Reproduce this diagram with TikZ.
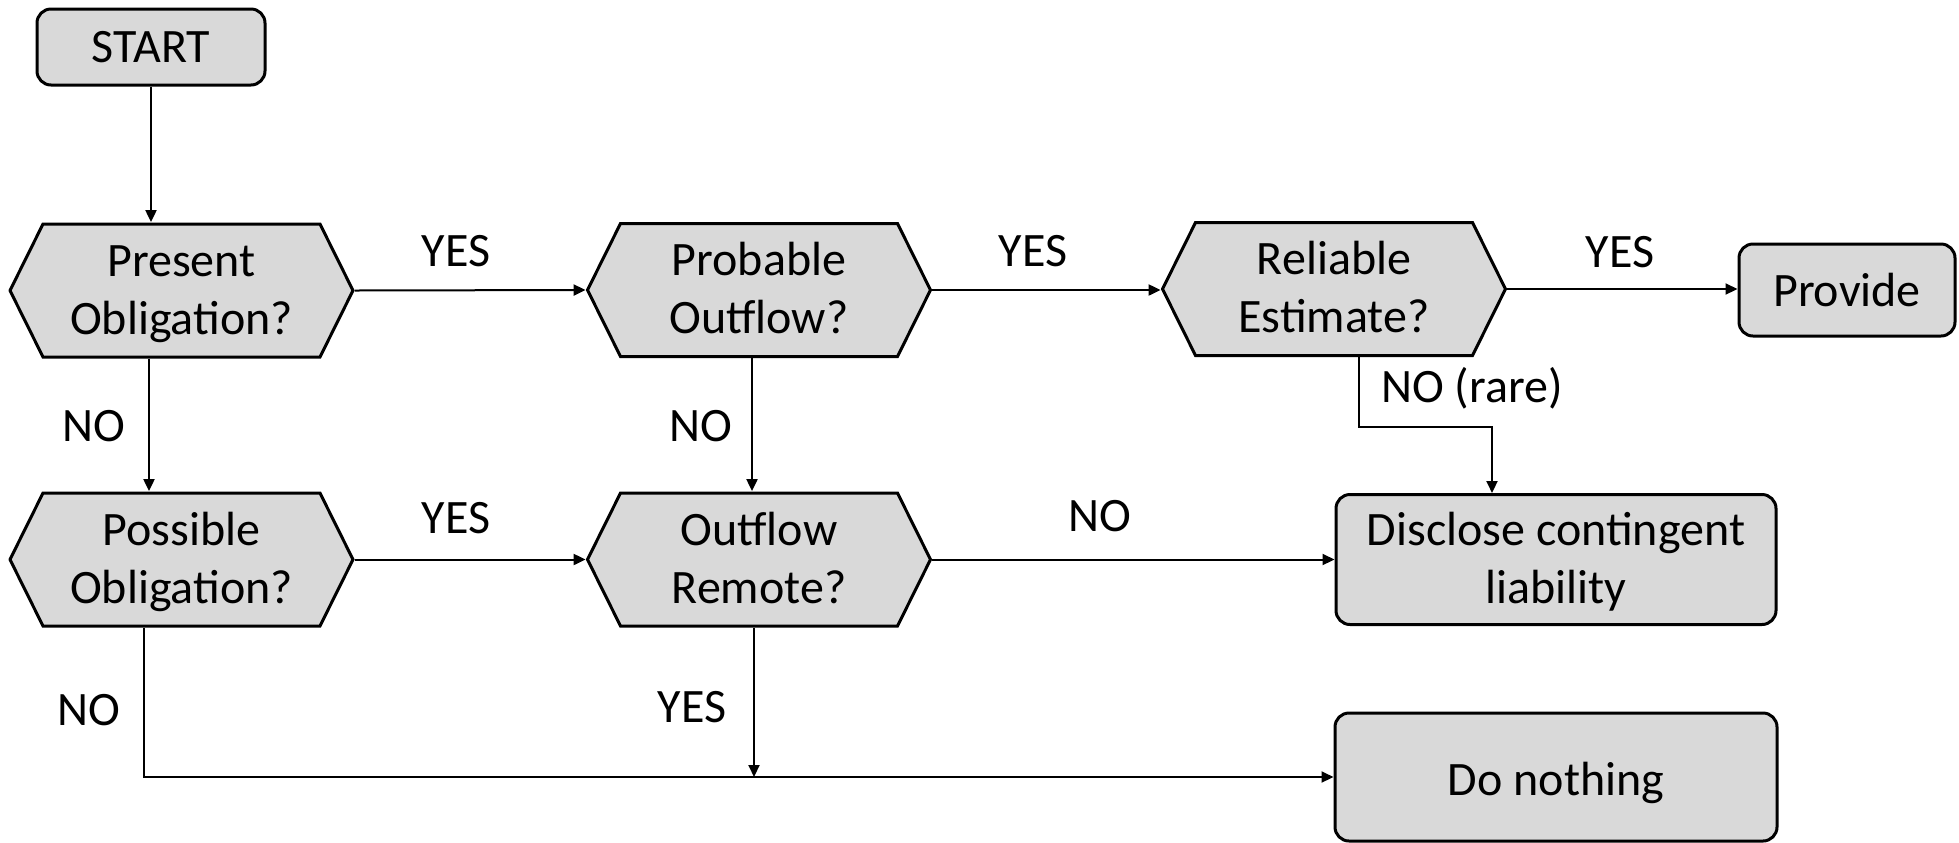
\documentclass[tikz,border=0pt]{standalone}
\usepackage{fontspec}
\setmainfont{Carlito}
\usetikzlibrary{arrows.meta}
\definecolor{boxgray}{HTML}{D9D9D9}
\newcommand{\lowertext}[2]{\raisebox{-#1}[\height][\depth]{#2}}
\begin{document}
\begin{tikzpicture}[x=0.5pt,y=-0.5pt,
  every node/.style={font=\fontsize{24pt}{29pt}\selectfont},
  rbox/.style={draw, line width=1.5pt, fill=boxgray, rounded corners=7pt, align=center, inner sep=0pt},
  hexbox/.style={align=center, inner sep=0pt, minimum width=173pt, minimum height=68pt,
    path picture={
      \draw[line width=1.5pt, fill=boxgray, line join=miter]
        ([xshift=0.75pt]path picture bounding box.west)
        -- ([xshift=17.25pt,yshift=-0.75pt]path picture bounding box.north west)
        -- ([xshift=-17.25pt,yshift=-0.75pt]path picture bounding box.north east)
        -- ([xshift=-0.75pt]path picture bounding box.east)
        -- ([xshift=-17.25pt,yshift=0.75pt]path picture bounding box.south east)
        -- ([xshift=17.25pt,yshift=0.75pt]path picture bounding box.south west)
        -- cycle;}},
  conn/.style={line width=1pt, -{Triangle[length=6pt,width=5.5pt]}},
  lbl/.style={inner sep=0pt}]
\useasboundingbox (0,0) rectangle (1959,842);

\node[rbox, minimum width=114pt, minimum height=38pt] (start) at (151,47) {START};
\node[hexbox] (present) at (181.5,290.5) {\lowertext{1.5pt}{\begin{tabular}{@{}c@{}}Present\\Obligation?\end{tabular}}};
\node[hexbox] (probable) at (759,290) {\lowertext{1.5pt}{\begin{tabular}{@{}c@{}}Probable\\Outflow?\end{tabular}}};
\node[hexbox] (reliable) at (1334,289) {\lowertext{1.5pt}{\begin{tabular}{@{}c@{}}Reliable\\Estimate?\end{tabular}}};
\node[rbox, minimum width=108pt, minimum height=46pt] (provide) at (1847,290) {Provide};
\node[hexbox] (possible) at (181.5,559.5) {\lowertext{1.5pt}{\begin{tabular}{@{}c@{}}Possible\\Obligation?\end{tabular}}};
\node[hexbox] (remote) at (759,559.5) {\lowertext{1.5pt}{\begin{tabular}{@{}c@{}}Outflow\\Remote?\end{tabular}}};
\node[rbox, minimum width=220pt, minimum height=65pt] (disclose) at (1556,559.5) {\lowertext{1.5pt}{\begin{tabular}{@{}c@{}}Disclose contingent\\liability\end{tabular}}};
\node[rbox, minimum width=221pt, minimum height=64pt] (nothing) at (1556,777) {\lowertext{3pt}{Do nothing}};

\coordinate (bend) at (1492,427);
\coordinate (join) at (754,777);

\draw[conn] (start.south) -- (start.south |- present.north);
\draw[conn] (present.east) -- (probable.west);
\draw[conn] (probable.east) -- (probable.east -| reliable.west);
\draw[conn] (reliable.east) -- (reliable.east -| provide.west);
\draw[conn] ([xshift=-16.25pt]present.south) -- ([xshift=-16.25pt]possible.north);
\draw[conn] ([xshift=-3.5pt]probable.south) -- ([xshift=-3.5pt]remote.north);
\draw[conn] (possible.east) -- (remote.west);
\draw[conn] (remote.east) -- (remote.east -| disclose.west);
\draw[conn] ([xshift=12.5pt]reliable.south) |- (bend) -- (bend |- disclose.north);
\draw[conn] ([xshift=-2.5pt]remote.south) -- (join);
\draw[conn] ([xshift=-18.75pt]possible.south) |- (nothing.west);

\node[lbl] (l1) at (456,251) {YES};
\node[lbl] (l2) at (1033,251) {YES};
\node[lbl] (l3) at (1620,252) {YES};
\node[lbl] (l4) at (94,426) {NO};
\node[lbl] (l5) at (701,426) {NO};
\node[lbl] (l6) at (1472,388) {NO (rare)};
\node[lbl] (l7) at (456,518) {YES};
\node[lbl] (l8) at (1100,516) {NO};
\node[lbl] (l9) at (89,710) {NO};
\node[lbl] (l10) at (692,707) {YES};
\end{tikzpicture}
\end{document}
